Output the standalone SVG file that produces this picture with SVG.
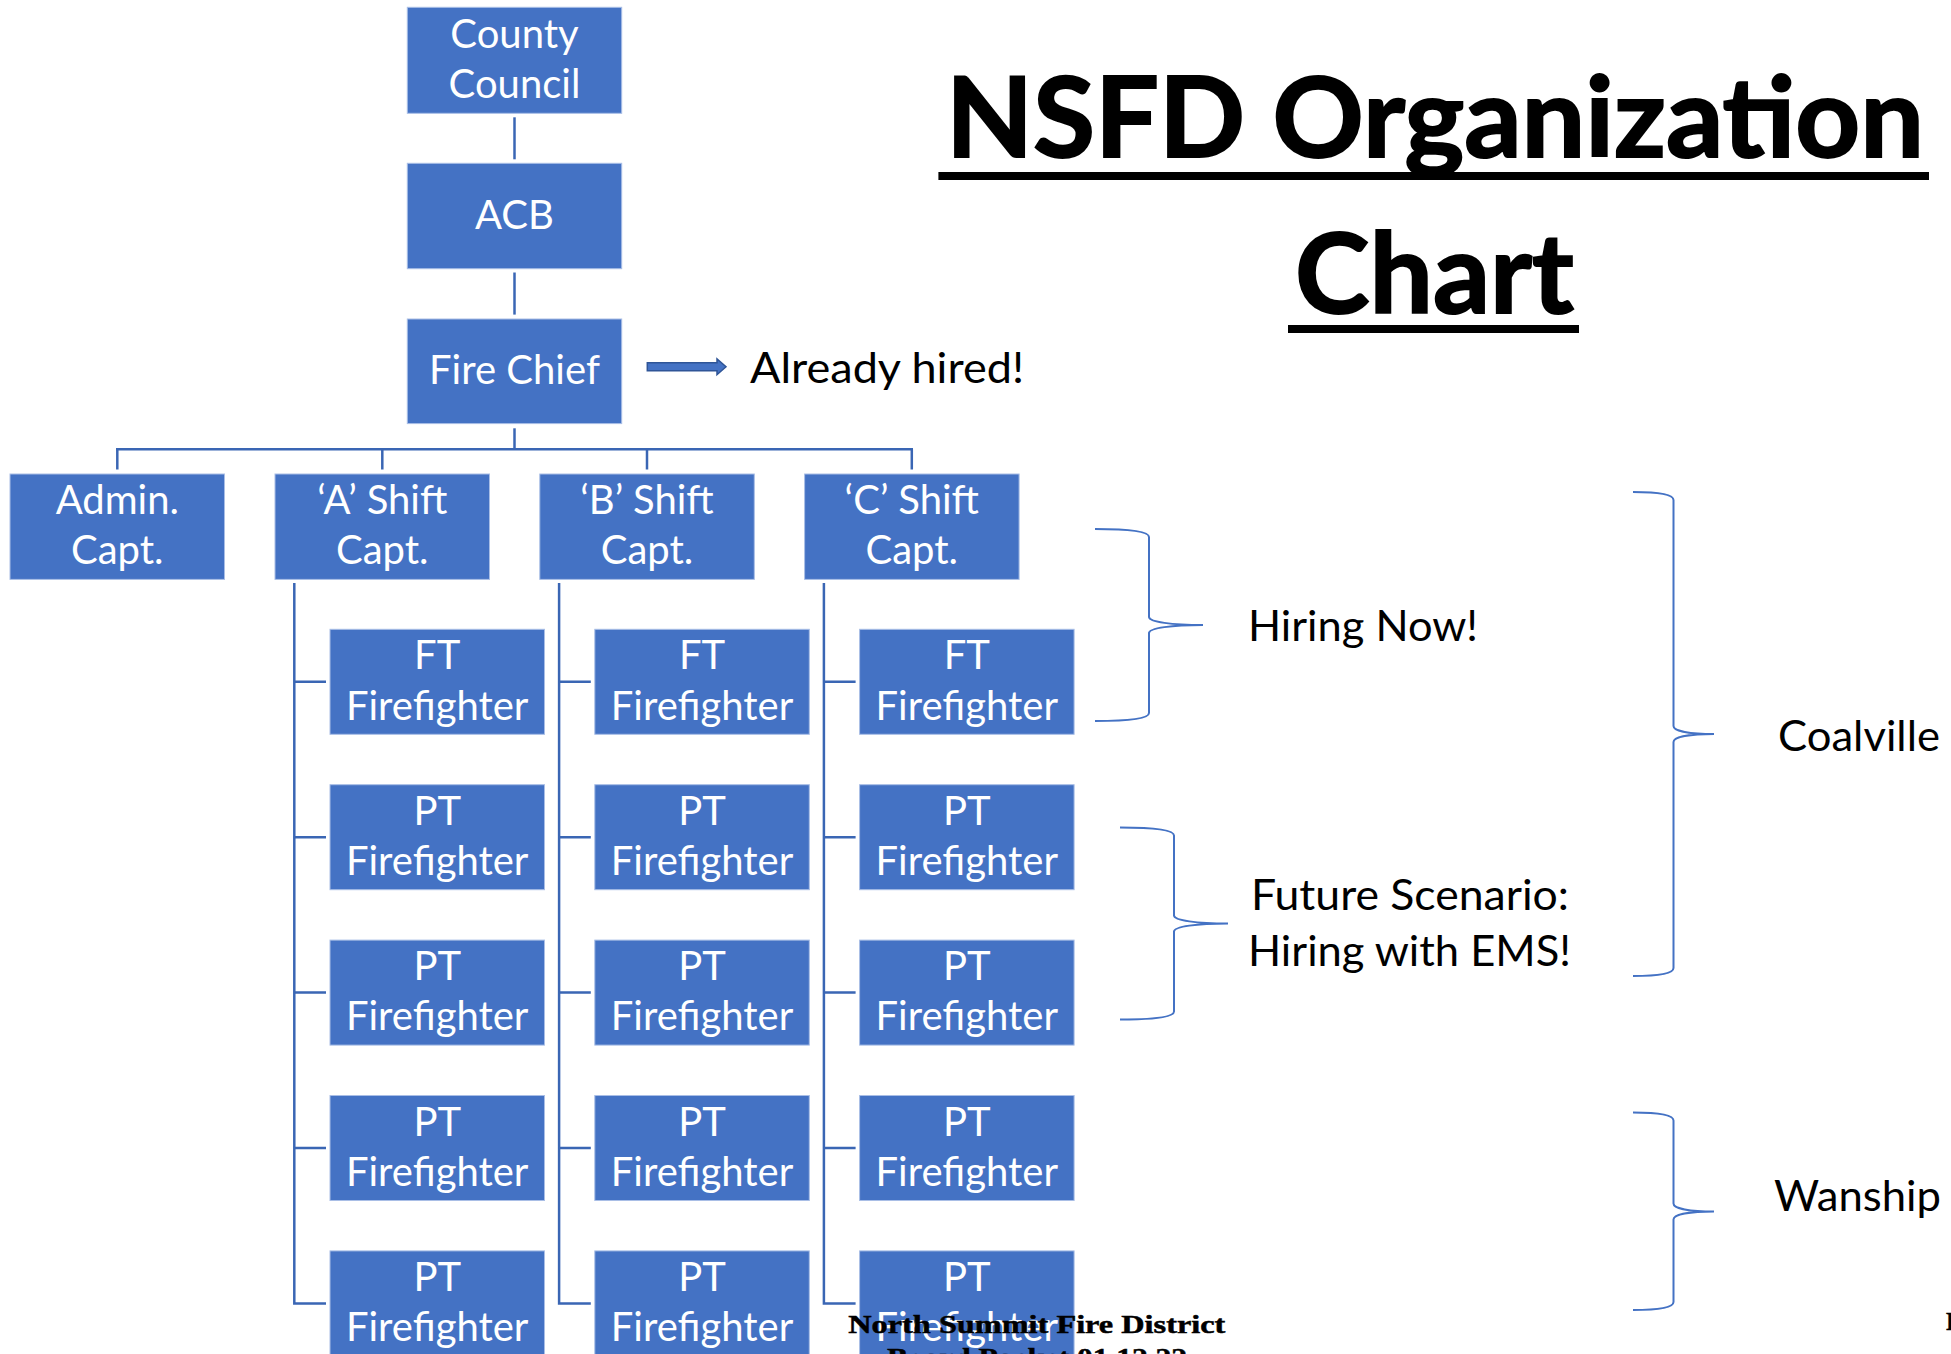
<svg xmlns="http://www.w3.org/2000/svg" width="1951" height="1354" viewBox="0 0 1951 1354">
  <style>
    .box { fill: #4472C4; stroke: #A9BEE6; stroke-width: 1; }
    .bt { font-family: Lato, "Open Sans", sans-serif; font-size: 40px; fill: #ffffff; text-anchor: middle; }
    .conn { stroke: #3A66B4; stroke-width: 2.5; fill: none; }
    .brace { stroke: #4472C4; stroke-width: 2; fill: none; }
    .lbl { font-family: Lato, "Open Sans", sans-serif; font-size: 42px; fill: #000000; }
    .title { font-family: Lato, "Open Sans", sans-serif; font-weight: 700; font-size: 112px; fill: #000000; stroke: #000000; stroke-width: 2; }
    .foot { font-family: "Liberation Serif", serif; font-weight: 700; font-size: 26px; fill: #000000; stroke: #000000; stroke-width: 0.5; }
  </style>

  <!-- background -->
  <rect x="0" y="0" width="1951" height="1354" fill="#ffffff"/>

  <!-- title -->
  <g id="title">
    <text class="title" x="946" y="156.7" textLength="978" lengthAdjust="spacingAndGlyphs">NSFD Organization</text>
    <rect x="938.4" y="172" width="990.6" height="8" fill="#000000"/>
    <text class="title" x="1295" y="313.3" textLength="279" lengthAdjust="spacingAndGlyphs">Chart</text>
    <rect x="1288" y="325" width="291" height="8" fill="#000000"/>
  </g>

  <!-- connectors -->
  <g id="connectors">
    <line class="conn" x1="514.5" y1="117.3" x2="514.5" y2="159.3"/>
    <line class="conn" x1="514.5" y1="272.5" x2="514.5" y2="314.6"/>
    <line class="conn" x1="514.5" y1="428.3" x2="514.5" y2="449.3"/>
    <line class="conn" x1="116" y1="449.3" x2="913" y2="449.3"/>
    <line class="conn" x1="117.3" y1="449.3" x2="117.3" y2="469.5"/>
    <line class="conn" x1="382.3" y1="449.3" x2="382.3" y2="469.5"/>
    <line class="conn" x1="647" y1="449.3" x2="647" y2="469.5"/>
    <line class="conn" x1="911.8" y1="449.3" x2="911.8" y2="469.5"/>

    <!-- 'A' shift spine and branches -->
    <path class="conn" d="M294.3,583 V1303.4 H326 M294.3,681.8 H326 M294.3,837.2 H326 M294.3,992.6 H326 M294.3,1148 H326"/>
    <!-- 'B' shift spine and branches -->
    <path class="conn" d="M559.1,583 V1303.4 H590.8 M559.1,681.8 H590.8 M559.1,837.2 H590.8 M559.1,992.6 H590.8 M559.1,1148 H590.8"/>
    <!-- 'C' shift spine and branches -->
    <path class="conn" d="M823.9,583 V1303.4 H855.6 M823.9,681.8 H855.6 M823.9,837.2 H855.6 M823.9,992.6 H855.6 M823.9,1148 H855.6"/>

    <!-- block arrow to "Already hired!" -->
    <path d="M647.3,362.7 H717 V359 L726,366.8 L717,374.7 V370.7 H647.3 Z" fill="#4472C4" stroke="#2F5597" stroke-width="1.5"/>
  </g>

  <!-- leadership -->
  <g id="county-council">
    <rect class="box" x="407.3" y="7.3" width="214.4" height="106"/>
    <text class="bt" x="514.5" y="48">County</text>
    <text class="bt" x="514.5" y="97.5">Council</text>
  </g>
  <g id="acb">
    <rect class="box" x="407.3" y="163.3" width="214.4" height="105.4"/>
    <text class="bt" x="514.5" y="229">ACB</text>
  </g>
  <g id="fire-chief">
    <rect class="box" x="407.3" y="319" width="214.4" height="104.6"/>
    <text class="bt" x="514.5" y="384">Fire Chief</text>
  </g>

  <!-- captains -->
  <g id="admin-capt">
    <rect class="box" x="10" y="474" width="214.5" height="105.4"/>
    <text class="bt" x="117.3" y="514">Admin.</text>
    <text class="bt" x="117.3" y="564">Capt.</text>
  </g>
  <g id="a-shift-capt">
    <rect class="box" x="275" y="474" width="214.5" height="105.4"/>
    <text class="bt" x="382.3" y="514">‘A’ Shift</text>
    <text class="bt" x="382.3" y="564">Capt.</text>
  </g>
  <g id="b-shift-capt">
    <rect class="box" x="539.8" y="474" width="214.5" height="105.4"/>
    <text class="bt" x="647" y="514">‘B’ Shift</text>
    <text class="bt" x="647" y="564">Capt.</text>
  </g>
  <g id="c-shift-capt">
    <rect class="box" x="804.6" y="474" width="214.5" height="105.4"/>
    <text class="bt" x="911.8" y="514">‘C’ Shift</text>
    <text class="bt" x="911.8" y="564">Capt.</text>
  </g>

  <!-- 'A' shift firefighters -->
  <g id="a-ft-1"><rect class="box" x="330" y="629.3" width="214.5" height="105"/><text class="bt" x="437.2" y="669.3">FT</text><text class="bt" x="437.2" y="719.6">Firefighter</text></g>
  <g id="a-pt-2"><rect class="box" x="330" y="784.7" width="214.5" height="105"/><text class="bt" x="437.2" y="824.7">PT</text><text class="bt" x="437.2" y="875">Firefighter</text></g>
  <g id="a-pt-3"><rect class="box" x="330" y="940.1" width="214.5" height="105"/><text class="bt" x="437.2" y="980.1">PT</text><text class="bt" x="437.2" y="1030.4">Firefighter</text></g>
  <g id="a-pt-4"><rect class="box" x="330" y="1095.5" width="214.5" height="105"/><text class="bt" x="437.2" y="1135.5">PT</text><text class="bt" x="437.2" y="1185.8">Firefighter</text></g>
  <g id="a-pt-5"><rect class="box" x="330" y="1250.9" width="214.5" height="105"/><text class="bt" x="437.2" y="1290.9">PT</text><text class="bt" x="437.2" y="1341.2">Firefighter</text></g>

  <!-- 'B' shift firefighters -->
  <g id="b-ft-1"><rect class="box" x="594.8" y="629.3" width="214.5" height="105"/><text class="bt" x="702" y="669.3">FT</text><text class="bt" x="702" y="719.6">Firefighter</text></g>
  <g id="b-pt-2"><rect class="box" x="594.8" y="784.7" width="214.5" height="105"/><text class="bt" x="702" y="824.7">PT</text><text class="bt" x="702" y="875">Firefighter</text></g>
  <g id="b-pt-3"><rect class="box" x="594.8" y="940.1" width="214.5" height="105"/><text class="bt" x="702" y="980.1">PT</text><text class="bt" x="702" y="1030.4">Firefighter</text></g>
  <g id="b-pt-4"><rect class="box" x="594.8" y="1095.5" width="214.5" height="105"/><text class="bt" x="702" y="1135.5">PT</text><text class="bt" x="702" y="1185.8">Firefighter</text></g>
  <g id="b-pt-5"><rect class="box" x="594.8" y="1250.9" width="214.5" height="105"/><text class="bt" x="702" y="1290.9">PT</text><text class="bt" x="702" y="1341.2">Firefighter</text></g>

  <!-- 'C' shift firefighters -->
  <g id="c-ft-1"><rect class="box" x="859.6" y="629.3" width="214.5" height="105"/><text class="bt" x="966.8" y="669.3">FT</text><text class="bt" x="966.8" y="719.6">Firefighter</text></g>
  <g id="c-pt-2"><rect class="box" x="859.6" y="784.7" width="214.5" height="105"/><text class="bt" x="966.8" y="824.7">PT</text><text class="bt" x="966.8" y="875">Firefighter</text></g>
  <g id="c-pt-3"><rect class="box" x="859.6" y="940.1" width="214.5" height="105"/><text class="bt" x="966.8" y="980.1">PT</text><text class="bt" x="966.8" y="1030.4">Firefighter</text></g>
  <g id="c-pt-4"><rect class="box" x="859.6" y="1095.5" width="214.5" height="105"/><text class="bt" x="966.8" y="1135.5">PT</text><text class="bt" x="966.8" y="1185.8">Firefighter</text></g>
  <g id="c-pt-5"><rect class="box" x="859.6" y="1250.9" width="214.5" height="105"/><text class="bt" x="966.8" y="1290.9">PT</text><text class="bt" x="966.8" y="1341.2">Firefighter</text></g>

  <!-- side notes -->
  <g id="already-hired">
    <text class="lbl" x="750" y="383" textLength="274" lengthAdjust="spacingAndGlyphs">Already hired!</text>
  </g>
  <g id="hiring-now">
    <path class="brace" d="M1095,529 C1128,529 1149,531 1149,537 V617 C1149,622 1172,625 1203,625 C1172,625 1149,628 1149,633 V713 C1149,719 1128,721 1095,721"/>
    <text class="lbl" x="1248" y="641" textLength="230" lengthAdjust="spacingAndGlyphs">Hiring Now!</text>
  </g>
  <g id="future-scenario">
    <path class="brace" d="M1120,827.5 C1153,827.5 1174,829.5 1174,835.5 V915.5 C1174,920.5 1197,923.5 1228,923.5 C1197,923.5 1174,926.5 1174,931.5 V1011.5 C1174,1017.5 1153,1019.5 1120,1019.5"/>
    <text class="lbl" x="1251" y="910" textLength="318" lengthAdjust="spacingAndGlyphs">Future Scenario:</text>
    <text class="lbl" x="1248" y="966" textLength="323" lengthAdjust="spacingAndGlyphs">Hiring with EMS!</text>
  </g>
  <g id="coalville">
    <path class="brace" d="M1633,492 C1658,492 1673.5,494 1673.5,500 V726 C1673.5,731 1690,734 1714,734 C1690,734 1673.5,737 1673.5,742 V968 C1673.5,974 1658,976 1633,976"/>
    <text class="lbl" x="1778" y="750.5" textLength="162" lengthAdjust="spacingAndGlyphs">Coalville</text>
  </g>
  <g id="wanship">
    <path class="brace" d="M1633,1112.5 C1658,1112.5 1673.5,1114.5 1673.5,1120.5 V1203.5 C1673.5,1208.5 1690,1211.5 1714,1211.5 C1690,1211.5 1673.5,1214.5 1673.5,1219.5 V1302 C1673.5,1308 1658,1310 1633,1310"/>
    <text class="lbl" x="1774" y="1211" textLength="167" lengthAdjust="spacingAndGlyphs">Wanship</text>
  </g>

  <!-- page footer -->
  <g id="footer">
    <text class="foot" x="848.3" y="1332.5" textLength="377" lengthAdjust="spacingAndGlyphs">North Summit Fire District</text>
    <text class="foot" x="887" y="1366" textLength="300" lengthAdjust="spacingAndGlyphs">Board Packet 01.12.22</text>
    <text class="foot" x="1946" y="1330">P</text>
  </g>
</svg>
